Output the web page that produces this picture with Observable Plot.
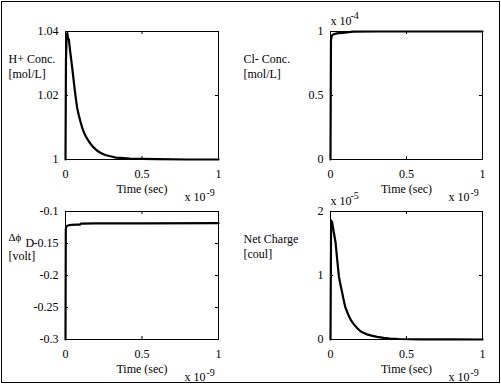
<!DOCTYPE html>
<html><head><meta charset="utf-8">
<script src="https://cdn.jsdelivr.net/npm/d3@7"></script>
<script src="https://cdn.jsdelivr.net/npm/@observablehq/plot@0.6"></script>
<style>
body{margin:0;background:#fff;}
#wrap{position:relative;width:501px;height:384px;}
#border{position:absolute;left:1px;top:1px;width:497px;height:380px;border:1px solid #000;}
#wrap svg{position:absolute;left:0;top:0;font-family:"Liberation Serif","DejaVu Serif",serif !important;}
#wrap svg text{font-family:"Liberation Serif","DejaVu Serif",serif !important;}
</style></head><body><div id="wrap"><div id="border"></div></div>
<script>
// shared x axis
const xTicks = [0, 0.5, 1];
const xTickLabels = ["0", "0.5", "1"];
const timeLabel = "Time (sec)";
const timeMult = ["x 10", "-9"];

// H+ concentration
const hTime = [0, 0.003, 0.008, 0.012, 0.016, 0.022, 0.03, 0.043, 0.055, 0.065, 0.076, 0.087, 0.098, 0.11, 0.12, 0.135, 0.152, 0.17, 0.185, 0.205, 0.228, 0.26, 0.293, 0.33, 0.36, 0.42, 0.5, 0.6, 0.8, 1.0];
const hConc = [1.0, 1.031, 1.039, 1.0395, 1.038, 1.0375, 1.034, 1.029, 1.024, 1.020, 1.0162, 1.0138, 1.0118, 1.0098, 1.0085, 1.007, 1.0057, 1.0045, 1.0037, 1.0028, 1.0021, 1.0014, 1.0010, 1.0006, 1.0005, 1.0003, 1.0002, 1.0001, 1.0, 1.0];
const hTicks = [1, 1.02, 1.04];
const hTickLabels = ["1", "1.02", "1.04"];
const hLabel = "H+ Conc.\n[mol/L]";

// Cl- concentration (x 10^-4)
const clTime = [0, 0.003, 0.006, 0.01, 0.02, 0.03, 0.05, 0.08, 0.12, 0.15, 0.3, 0.6, 1.0];
const clConc = [0, 0.93, 0.955, 0.97, 0.978, 0.982, 0.987, 0.99, 0.995, 0.999, 1.0, 1.0, 1.0];
const clTicks = [0, 0.5, 1];
const clTickLabels = ["0", "0.5", "1"];
const clLabel = "Cl- Conc.\n[mol/L]";
const clMult = ["x 10", "-4"];

// Delta phi
const phiTime = [0, 0.002, 0.005, 0.01, 0.02, 0.04, 0.07, 0.095, 0.1, 0.2, 0.5, 1.0];
const phiVal = [-0.3, -0.128, -0.124, -0.1225, -0.1215, -0.121, -0.1206, -0.1204, -0.119, -0.1186, -0.1184, -0.1183];
const phiTicks = [-0.3, -0.25, -0.2, -0.15, -0.1];
const phiTickLabels = ["-0.3", "-0.25", "-0.2", "-0.15", "-0.1"];
const phiLabel = ["Δϕ", "D", "[volt]"];

// Net charge (x 10^-5)
const qTime = [0, 0.004, 0.011, 0.02, 0.033, 0.044, 0.055, 0.066, 0.077, 0.088, 0.098, 0.11, 0.12, 0.135, 0.153, 0.175, 0.197, 0.22, 0.24, 0.27, 0.306, 0.35, 0.394, 0.45, 0.6, 0.8, 1.0];
const qVal = [0, 1.86, 1.83, 1.7, 1.52, 1.25, 0.99, 0.85, 0.73, 0.6, 0.50, 0.43, 0.37, 0.30, 0.24, 0.18, 0.13, 0.1, 0.08, 0.06, 0.04, 0.025, 0.015, 0.008, 0.003, 0.001, 0];
const qTicks = [0, 1, 2];
const qTickLabels = ["0", "1", "2"];
const qLabel = "Net Charge\n[coul]";
const qMult = ["x 10", "-5"];

const W = 500, H = 384;
const font = "Liberation Serif";

function label(str, o) {
  return Plot.text([str], {text: d => d, textAnchor: "start", lineAnchor: "middle", fill: "black", fontFamily: font, ...o});
}

function panel({frame, t, v, yDomain, yTicks, yTickLabels, yLabel, labelDx, labelDy, mult, extra = []}) {
  const [l, r, tp, b] = frame;
  const fw = r - l, fh = b - tp;
  const marks = [
    Plot.frame({stroke: "black"}),
    Plot.ruleY(yTicks, {insetRight: fw - 3, stroke: "black"}),
    Plot.ruleY(yTicks, {insetLeft: fw - 3, stroke: "black"}),
    Plot.ruleX(xTicks, {insetBottom: fh - 3, stroke: "black"}),
    Plot.ruleX(xTicks, {insetTop: fh - 3, stroke: "black"}),
    Plot.axisY({anchor: "left", ticks: yTicks, tickSize: 0, tickPadding: 7, label: null, fontFamily: font,
      tickFormat: d => yTickLabels[yTicks.indexOf(d)], fill: "black"}),
    Plot.axisX({anchor: "bottom", ticks: xTicks, tickSize: 0, tickPadding: 10, label: null, fontFamily: font,
      tickFormat: d => xTickLabels[xTicks.indexOf(d)], fill: "black"}),
    Plot.line(t, {x: t, y: v, stroke: "black", strokeWidth: 2.2}),
    label(timeLabel, {frameAnchor: "bottom", textAnchor: "middle", dy: 30}),
    label(timeMult[0], {frameAnchor: "bottom-right", textAnchor: "end", dx: -13, dy: 38}),
    label(timeMult[1], {frameAnchor: "bottom-right", dx: -12, dy: 33, fontSize: 10})
  ];
  if (yLabel) marks.push(label(yLabel, {frameAnchor: "top-left", dx: labelDx, dy: labelDy, lineHeight: 1.25}));
  if (mult) {
    marks.push(label(mult[0], {frameAnchor: "top-left", dx: 0, dy: -10}));
    marks.push(label(mult[1], {frameAnchor: "top-left", dx: 20, dy: -16, fontSize: 10}));
  }
  marks.push(...extra);
  return Plot.plot({
    width: W, height: H,
    marginLeft: l, marginRight: W - r, marginTop: tp, marginBottom: H - b,
    x: {domain: [0, 1]},
    y: {domain: yDomain},
    style: {fontFamily: font, fontSize: "12px", background: "transparent", overflow: "visible", color: "black"},
    marks
  });
}

const wrap = document.getElementById("wrap");
wrap.append(panel({frame: [65, 218, 31, 159], t: hTime, v: hConc, yDomain: [1, 1.04], yTicks: hTicks, yTickLabels: hTickLabels, yLabel: hLabel, labelDx: -57, labelDy: 34}));
wrap.append(panel({frame: [330, 482, 31, 159], t: clTime, v: clConc, yDomain: [0, 1], yTicks: clTicks, yTickLabels: clTickLabels, yLabel: clLabel, labelDx: -87, labelDy: 34, mult: clMult}));
wrap.append(panel({frame: [65, 218, 211, 339], t: phiTime, v: phiVal, yDomain: [-0.3, -0.1], yTicks: phiTicks, yTickLabels: phiTickLabels, yLabel: null,
  extra: [
    label(phiLabel[0], {frameAnchor: "top-left", dx: -57, dy: 26, fontSize: 11}),
    label(phiLabel[1], {frameAnchor: "top-left", dx: -40, dy: 32}),
    label(phiLabel[2], {frameAnchor: "top-left", dx: -57, dy: 45})
  ]}));
wrap.append(panel({frame: [330, 482, 211, 339], t: qTime, v: qVal, yDomain: [0, 2], yTicks: qTicks, yTickLabels: qTickLabels, yLabel: qLabel, labelDx: -87, labelDy: 34, mult: qMult}));
</script>
</body></html>
